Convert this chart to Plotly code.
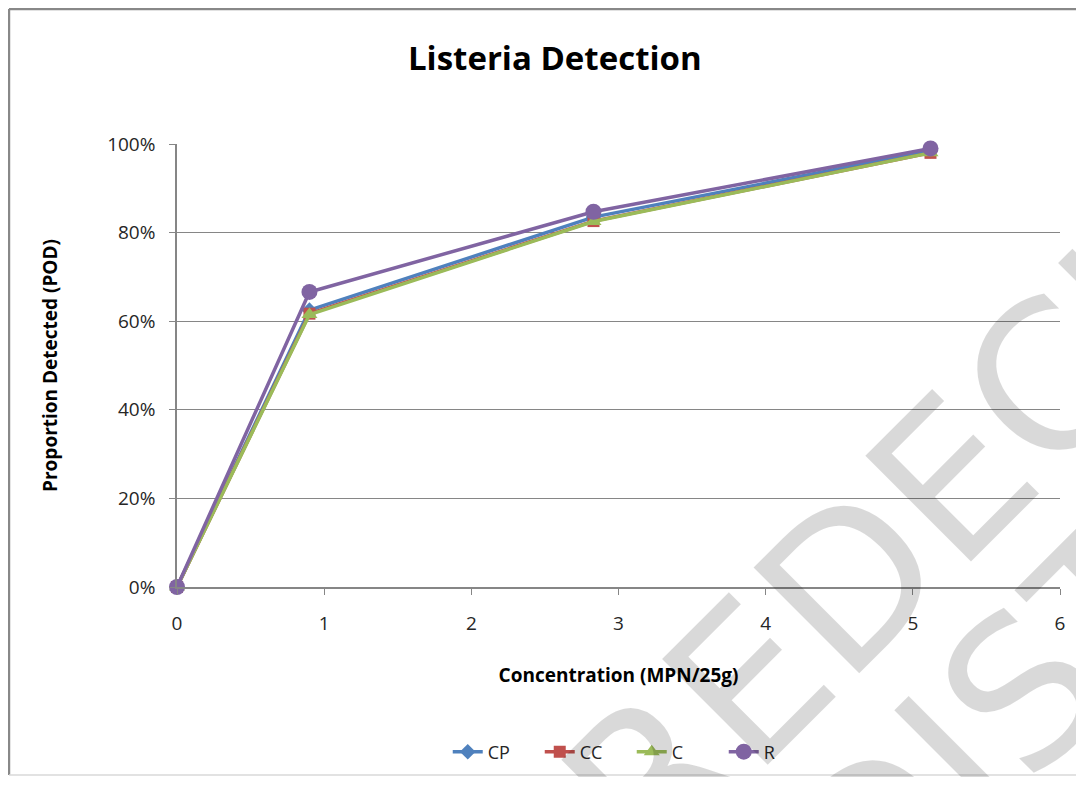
import plotly.graph_objects as go

concentration = [0, 0.9, 2.83, 5.12]
series_names = ["CP", "CC", "C", "R"]
pod_cp = [0.0, 0.625, 0.835, 0.985]
pod_cc = [0.0, 0.617, 0.826, 0.980]
pod_c = [0.0, 0.615, 0.825, 0.980]
pod_r = [0.0, 0.666, 0.847, 0.990]
x_ticks = [0, 1, 2, 3, 4, 5, 6]
y_ticks = [0, 0.2, 0.4, 0.6, 0.8, 1.0]
y_tick_labels = ["0%", "20%", "40%", "60%", "80%", "100%"]

colors = ["#4F81BD", "#C0504D", "#9BBB59", "#8064A2"]
symbols = ["diamond", "square", "triangle-up", "circle"]
sizes = [12, 12, 14, 16]
values = [pod_cp, pod_cc, pod_c, pod_r]

fig = go.Figure()
for name, vals, col, sym, sz in zip(series_names, values, colors, symbols, sizes):
    fig.add_trace(go.Scatter(
        x=concentration, y=vals, name=name, mode="lines+markers",
        line=dict(color=col, width=3.5),
        marker=dict(symbol=sym, size=sz, color=col),
        cliponaxis=False,
    ))

font_family = "Open Sans, Liberation Sans, sans-serif"
text_col = "#262626"

fig.update_layout(
    width=1068, height=769,
    margin=dict(l=169, r=16, t=136, b=190, autoexpand=False),
    paper_bgcolor="white", plot_bgcolor="white",
    title=dict(text="<b>Listeria Detection</b>", x=0.512, xanchor="center",
               y=0.935, yanchor="middle",
               font=dict(family=font_family, size=33, color="black")),
    font=dict(family=font_family, size=18, color=text_col),
    showlegend=True,
    legend=dict(orientation="h", x=0.515, xanchor="center",
                yref="container", y=0.0325, yanchor="middle",
                font=dict(size=18, color=text_col), tracegroupgap=0,
                entrywidth=47, entrywidthmode="pixels"),
)
fig.update_xaxes(
    range=[0, 6], tickvals=x_ticks, showgrid=False, zeroline=False, automargin=False,
    showline=True, linecolor="#868686", linewidth=1.5,
    ticks="outside", ticklen=6, tickcolor="#868686", ticklabelstandoff=12,
    tickfont=dict(size=19, color=text_col),
    title=dict(text="<b>Concentration (MPN/25g)</b>", font=dict(size=19, color="black"), standoff=34),
)
fig.update_yaxes(
    range=[0, 1], tickvals=y_ticks, ticktext=y_tick_labels, automargin=False,
    showgrid=True, gridcolor="#868686", gridwidth=1, zeroline=False,
    showline=True, linecolor="#868686", linewidth=1.5,
    ticks="outside", ticklen=6, tickcolor="#868686", ticklabelstandoff=10,
    tickfont=dict(size=19, color=text_col),
    title=dict(text="<b>Proportion Detected (POD)</b>", font=dict(size=19, color="black"), standoff=44),
)

# outer chart border (left, top, bottom edges)
bx0, bx1, by0, by1 = -0.1903, 1.3, -0.4244, 1.3047
fig.add_shape(type="line", xref="paper", yref="paper", x0=bx0, x1=bx0, y0=by0, y1=by1,
              line=dict(color="#888888", width=2.5), layer="below")
fig.add_shape(type="line", xref="paper", yref="paper", x0=bx0, x1=bx1, y0=by1, y1=by1,
              line=dict(color="#888888", width=2.5), layer="below")
fig.add_shape(type="line", xref="paper", yref="paper", x0=bx0, x1=bx1, y0=by0, y1=by0,
              line=dict(color="#d9d9d9", width=1.5), layer="below")

# watermark
wm_font = dict(family="DejaVu Sans, sans-serif", size=205, color="rgba(0,0,0,0.15)")
fig.add_annotation(text="PREDECISIONAL", xref="paper", yref="paper",
                   x=1.042, y=0.569, xanchor="center", yanchor="middle",
                   textangle=-45, showarrow=False, font=wm_font)
fig.add_annotation(text="DISTRIBUTION", xref="paper", yref="paper",
                   x=1.320, y=0.483, xanchor="center", yanchor="middle",
                   textangle=-45, showarrow=False, font=wm_font)

fig.write_html("out.html")
